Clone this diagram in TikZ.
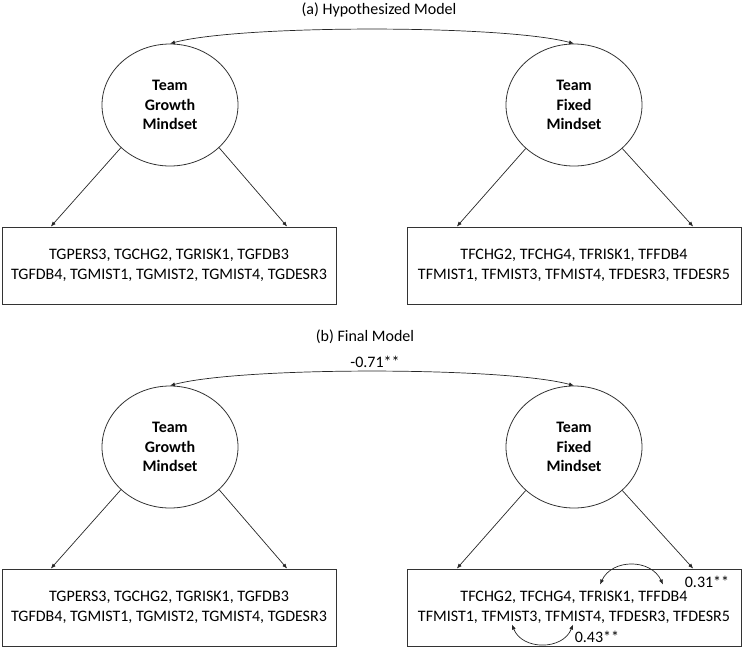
\documentclass[tikz,border=0pt]{standalone}
\usepackage{fontspec}
\setmainfont{Carlito}
\usetikzlibrary{shapes.geometric,arrows.meta,calc}

\tikzset{
  latente/.style={ellipse, draw=black!80, line width=0.8pt, minimum width=136pt,
    minimum height=122pt, inner sep=0pt, align=center,
    font=\fontsize{16}{19.5}\selectfont\bfseries},
  indicadores/.style={rectangle, draw=black!80, line width=0.8pt, minimum width=334pt,
    minimum height=77pt, align=center},
  carga/.style={->, black!85, line width=0.7pt},
  covar/.style={<->, black!85, line width=0.7pt}
}

\begin{document}
\begin{tikzpicture}[x=1pt, y=-1pt, >={Latex[length=5pt,width=4pt]},
  font=\fontsize{16}{19.5}\selectfont]

\useasboundingbox (0,0) rectangle (744,649);

\node (ta) at (379,10) {(a) Hypothesized Model};
\node (tb) at (365,337) {(b) Final Model};

% Los dos modelos
\foreach \p/\dy in {a/0, b/342} {
	\node[latente] (g\p) at (170,105+\dy) {Team\\Growth\\Mindset};
	\node[latente] (f\p) at (574,105+\dy) {Team\\Fixed\\Mindset};

	\node[indicadores] (gi\p) at (169,265.5+\dy)
		{TGPERS3, TGCHG2, TGRISK1, TGFDB3\\TGFDB4, TGMIST1, TGMIST2, TGMIST4, TGDESR3};
	\node[indicadores] (fi\p) at (574,265.5+\dy)
		{TFCHG2, TFCHG4, TFRISK1, TFFDB4\\TFMIST1, TFMIST3, TFMIST4, TFDESR3, TFDESR5};

	\draw[carga] (g\p.-139) -- ($(gi\p.north west)!0.147!(gi\p.north east)$);
	\draw[carga] (g\p.-41) -- ($(gi\p.north west)!0.853!(gi\p.north east)$);
	\draw[carga] (f\p.-138) -- ($(fi\p.north west)!0.15!(fi\p.north east)$);
	\draw[carga] (f\p.-42) -- ($(fi\p.north west)!0.856!(fi\p.north east)$);

	\draw[covar] (g\p.north) .. controls +(70,-19) and +(-70,-19) .. (f\p.north);
}

\node (cgf) at (375,362) {-0.71**};

% Errores correlacionados
\coordinate (risk) at ($(fib.center)+(26,-23)$);
\coordinate (fdb) at ($(fib.center)+(89,-23)$);
\coordinate (mist3) at ($(fib.center)+(-62,17)$);
\coordinate (mist4) at ($(fib.center)+(-1,17)$);

\draw[covar] (risk) .. controls +(12,-26) and +(-12,-26) .. (fdb);
\draw[covar] (mist3) .. controls +(10,26) and +(-10,26) .. (mist4);

\node (e1) at ($(fib.center)+(133,-26)$) {0.31**};
\node (e2) at ($(fib.center)+(23,29)$) {0.43**};

\end{tikzpicture}
\end{document}
